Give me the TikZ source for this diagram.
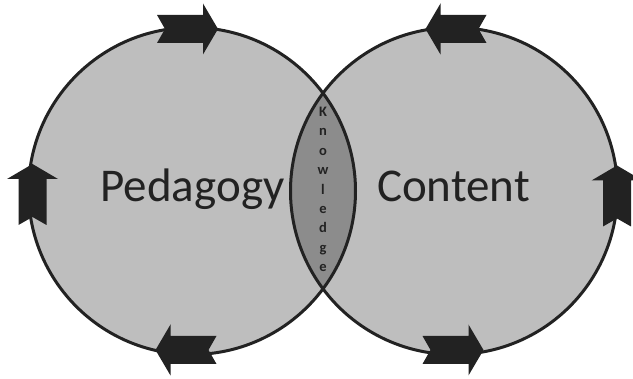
\documentclass[tikz,border=0pt]{standalone}
\usepackage{fontspec}
\setmainfont{Carlito}
\begin{document}
\begin{tikzpicture}[x=1pt,y=1pt,
  ringfill/.style={fill=ringgray},
  ringline/.style={draw=inkgray,line width=3pt},
  lensfill/.style={fill=lensgray},
  bigword/.style={text=inkgray,font=\fontsize{47}{50}\selectfont,anchor=base,inner sep=0pt},
  stackword/.style={text=inkgray,font=\fontsize{14.5}{19.4}\selectfont\bfseries,align=center,inner sep=0pt},
  blockarrow/.pic={
    \fill[inkgray] (-30.5,14) -- (15.5,14) -- (15.5,25.5) -- (30.5,0)
      -- (15.5,-25.5) -- (15.5,-14) -- (-30.5,-14) -- (-22.5,0) -- cycle;
  }]
\definecolor{ringgray}{HTML}{BEBEBE}
\definecolor{lensgray}{HTML}{8C8C8C}
\definecolor{inkgray}{HTML}{222222}
\useasboundingbox (0,0) rectangle (633,379);
\clip (0,0) rectangle (633,379);

% the two overlapping circles
\coordinate (lc) at (192,188);
\coordinate (rc) at (454,188);
\fill[ringfill] (lc) circle[radius=163.5];
\fill[ringfill] (rc) circle[radius=163.5];

% shared region
\begin{scope}
  \clip (lc) circle[radius=163.5];
  \fill[lensfill] (rc) circle[radius=163.5];
\end{scope}

\draw[ringline] (lc) circle[radius=163.5];
\draw[ringline] (rc) circle[radius=163.5];

% circulation arrows on the left circle (clockwise)
\pic at (187.5,350) {blockarrow};
\pic[rotate=90] at (32.5,184.5) {blockarrow};
\pic[rotate=180] at (186,29) {blockarrow};

% circulation arrows on the right circle (counter-clockwise)
\pic[rotate=180] at (456,350) {blockarrow};
\pic[rotate=90] at (617,183) {blockarrow};
\pic at (453,29) {blockarrow};

% labels
\node[bigword] (ped) at (192.5,177) {Pedagogy};
\node[bigword] (con) at (453.5,177) {Content};
\node[stackword] (know) at (323,189.5) {K\\n\\o\\w\\l\\e\\d\\g\\e};
\end{tikzpicture}
\end{document}
